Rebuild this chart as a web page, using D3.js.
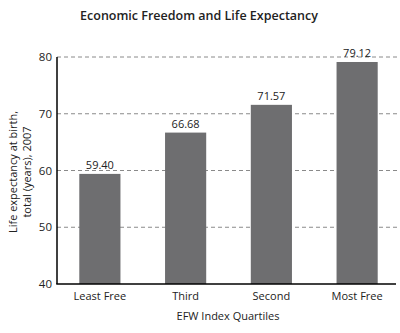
<!DOCTYPE html>
<html>
<head>
<meta charset="utf-8">
<script src="https://cdn.jsdelivr.net/npm/d3@7"></script>
<style>
  body { margin: 0; background: #fff; }
  svg text { font-family: "Open Sans", "Noto Sans", sans-serif; fill: #222; }
</style>
</head>
<body>
<div id="graph"></div>
<script>
// chart data
const categories = ["Least Free", "Third", "Second", "Most Free"];
const values = [59.40, 66.68, 71.57, 79.12];
const yTicks = [40, 50, 60, 70, 80];

const width = 400, height = 333;
const plotLeft = 57, plotRight = 400, plotTop = 57, plotBottom = 284;

const svg = d3.select("div#graph")
  .append("svg")
  .attr("width", width)
  .attr("height", height);

const x = d3.scaleBand().domain(categories).range([plotLeft, plotRight])
  .paddingInner(0.52).paddingOuter(0.26);
const y = d3.scaleLinear().domain([40, 80]).range([plotBottom, plotTop]);

// dashed grid lines
svg.append("g")
  .selectAll("line")
  .data(yTicks.filter(d => d > 40))
  .enter()
  .append("line")
  .attr("x1", plotLeft).attr("x2", 398)
  .attr("y1", d => y(d)).attr("y2", d => y(d))
  .attr("stroke", "#8a8a8a")
  .attr("stroke-width", 1)
  .attr("stroke-dasharray", "4,3");

// y tick labels
svg.append("g")
  .selectAll("text")
  .data(yTicks)
  .enter()
  .append("text")
  .attr("x", plotLeft - 5)
  .attr("y", d => y(d))
  .attr("dy", "0.35em")
  .attr("text-anchor", "end")
  .attr("font-size", 11.5)
  .text(d => d);

// bars
svg.selectAll(".bar")
  .data(values)
  .enter()
  .append("rect")
  .attr("class", "bar")
  .attr("x", (d, i) => x(categories[i]))
  .attr("width", x.bandwidth())
  .attr("y", d => y(d))
  .attr("height", d => y(40) - y(d))
  .attr("fill", "#6e6e70");

// value labels
svg.selectAll(".val")
  .data(values)
  .enter()
  .append("text")
  .attr("class", "val")
  .attr("x", (d, i) => x(categories[i]) + x.bandwidth() / 2)
  .attr("y", d => y(d) - 5)
  .attr("text-anchor", "middle")
  .attr("font-size", 11)
  .text(d => d.toFixed(2));

// axes lines
svg.append("line")
  .attr("x1", plotLeft).attr("x2", plotLeft)
  .attr("y1", plotTop).attr("y2", plotBottom)
  .attr("stroke", "#000").attr("stroke-width", 1.5);
svg.append("line")
  .attr("x1", plotLeft - 0.75).attr("x2", 396)
  .attr("y1", plotBottom).attr("y2", plotBottom)
  .attr("stroke", "#000").attr("stroke-width", 1.5);

// x tick labels
svg.append("g")
  .selectAll("text")
  .data(categories)
  .enter()
  .append("text")
  .attr("x", d => x(d) + x.bandwidth() / 2)
  .attr("y", 300)
  .attr("text-anchor", "middle")
  .attr("font-size", 11)
  .text(d => d);

// axis titles
svg.append("text")
  .attr("x", 228).attr("y", 320)
  .attr("text-anchor", "middle")
  .attr("font-size", 11)
  .text("EFW Index Quartiles");

const yl = svg.append("text")
  .attr("transform", "translate(17,172) rotate(-90)")
  .attr("text-anchor", "middle")
  .attr("font-size", 11);
yl.append("tspan").attr("x", 0).attr("y", 0).text("Life expectancy at birth,");
yl.append("tspan").attr("x", 0).attr("y", 14).text("total (years), 2007");

// title
svg.append("text")
  .attr("x", 199).attr("y", 20)
  .attr("text-anchor", "middle")
  .attr("font-size", 12.5)
  .attr("font-weight", 600)
  .text("Economic Freedom and Life Expectancy");
</script>
</body>
</html>
